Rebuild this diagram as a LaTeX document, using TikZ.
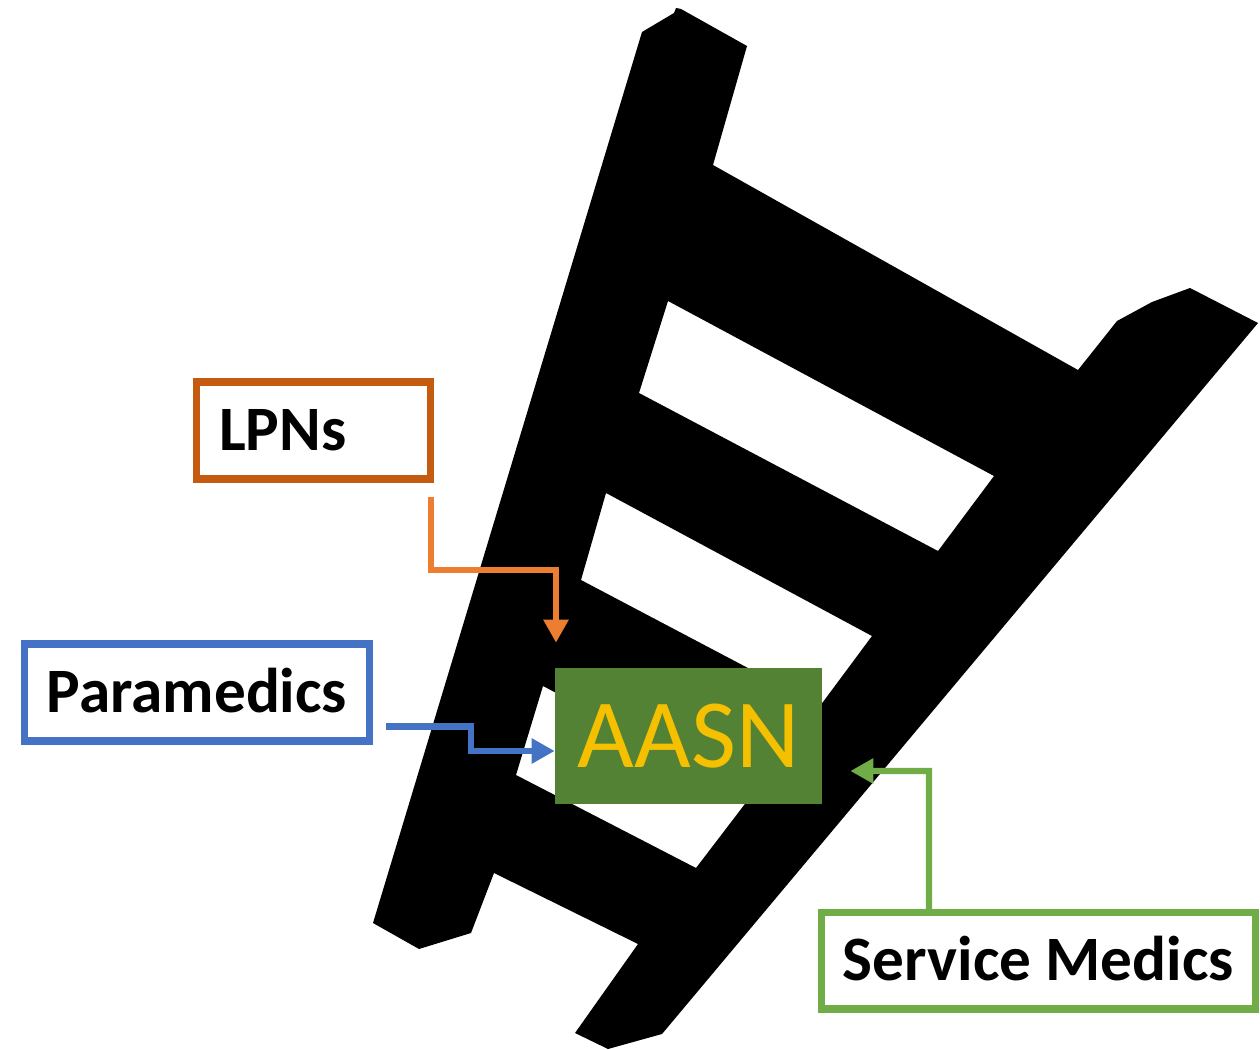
\documentclass[tikz,border=0pt]{standalone}
\usepackage{fontspec}
\setmainfont{Carlito}
\usetikzlibrary{arrows.meta}
\definecolor{lpnsbrown}{RGB}{197,90,17}
\definecolor{lpnsorange}{RGB}{237,125,49}
\definecolor{parablue}{RGB}{68,114,196}
\definecolor{medicsgreen}{RGB}{112,173,71}
\definecolor{aasngreen}{RGB}{84,130,53}
\definecolor{aasngold}{RGB}{245,192,0}

\begin{document}
\begin{tikzpicture}[x=0.02cm, y=-0.02cm, >={Triangle[length=0.46cm, width=0.48cm]},
    labelbox/.style={draw, line width=4pt, inner sep=0pt, outer sep=0pt,
        minimum height=1.94cm, text height=23pt, text depth=0pt,
        font=\fontsize{36}{40}\selectfont\bfseries},
    link/.style={->, line width=3.6pt}]
    \useasboundingbox (0,0) rectangle (1260,1050);

    % Ladder
    \fill[black, even odd rule] (642,32) -- (674,13) -- (676,8) -- (681,9) -- (747,46)
        -- (713,165) -- (1078,370) -- (1117,321) -- (1152,302) -- (1190,288) -- (1258,323)
        -- (662,1034) -- (608,1049) -- (575,1033) -- (638,944) -- (494,873) -- (471,933)
        -- (419,949) -- (373,923) -- cycle
        (668,301) -- (994,476) -- (938,551) -- (639,393) -- cycle % gap under rung 1
        (606,493) -- (872,636) -- (820,706) -- (581,580) -- cycle % gap under rung 2
        (543,686) -- (751,796) -- (696,868) -- (516,775) -- cycle; % gap under rung 3

    % AASN box
    \node[fill=aasngreen, minimum width=5.34cm, minimum height=2.72cm, inner sep=0pt,
        text=aasngold, font=\fontsize{55.7}{60}\selectfont] (aasn) at (688.5,736) {AASN};

    % Label boxes
    \node[labelbox, lpnsbrown, text=black, text width=3.78cm, align=left, inner xsep=0.46cm]
        (lpns) at (313.5,430.5) {LPNs};
    \node[labelbox, parablue, text=black, minimum width=6.92cm] (para) at (197,692.5) {Paramedics};
    \node[labelbox, medicsgreen, text=black, minimum width=8.70cm] (medics) at (1038.5,960.5) {Service Medics};

    % Arrows into AASN
    \coordinate (lpnsbend) at (556,570);
    \draw[link, lpnsorange, shorten >=0.5cm] ([yshift=-0.36cm]lpns.south east) |- (lpnsbend) -- (lpnsbend |- aasn.north);
    \coordinate (parabend) at (471,751);
    \draw[link, parablue] ([xshift=0.32cm, yshift=-0.68cm]para.east) -| (parabend) -- (parabend -| aasn.west);
    \coordinate (medicsbend) at (929,771);
    \draw[link, medicsgreen, shorten >=0.56cm] ([xshift=2.16cm]medics.north west) -- (medicsbend) -- (medicsbend -| aasn.east);
\end{tikzpicture}
\end{document}
